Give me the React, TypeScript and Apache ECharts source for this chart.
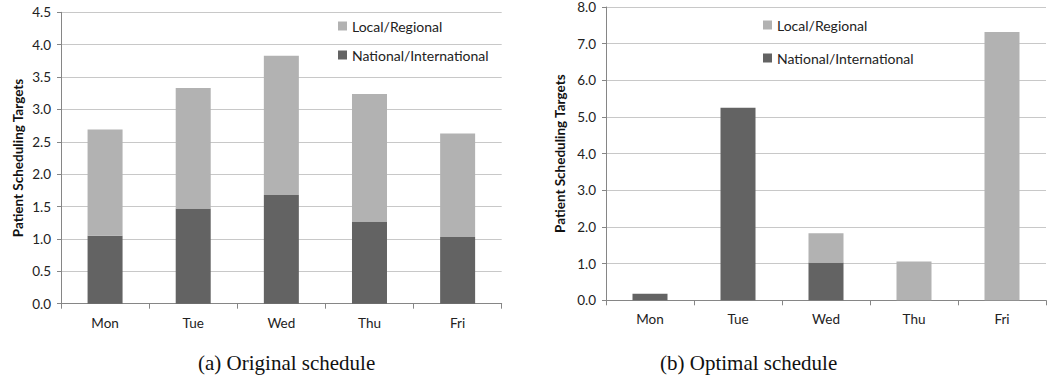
import React, { useEffect, useRef } from "react";
import * as echarts from "echarts";

const days = ["Mon", "Tue", "Wed", "Thu", "Fri"];
const originalNational = [1.05, 1.47, 1.68, 1.27, 1.03];
const originalLocal = [1.64, 1.86, 2.15, 1.97, 1.6];
const optimalNational = [0.18, 5.25, 1.03, 0, 0];
const optimalLocal = [0, 0, 0.8, 1.06, 7.32];
const seriesNames = ["Local/Regional", "National/International"];
const captions = ["(a) Original schedule", "(b) Optimal schedule"];
const yName = "Patient Scheduling Targets";

const LOCAL = "#b2b2b2";
const NATIONAL = "#636363";
const FONT = "Lato";

function xAxis(gridIndex: number) {
  return {
    type: "category",
    gridIndex,
    data: days,
    axisLine: { lineStyle: { color: "#868686", width: 1 } },
    axisTick: { show: true, length: 5, lineStyle: { color: "#868686" } },
    axisLabel: { color: "#222", fontSize: 13.5, fontFamily: FONT, margin: 12 },
  };
}

function yAxis(gridIndex: number, max: number, interval: number, nameGap: number) {
  return {
    type: "value",
    gridIndex,
    min: 0,
    max,
    interval,
    name: yName,
    nameLocation: "middle",
    nameGap,
    nameTextStyle: { fontFamily: FONT, fontSize: 13.5, fontWeight: "bold", color: "#111" },
    axisLine: { show: true, lineStyle: { color: "#868686", width: 1 } },
    axisTick: { show: true, length: 4, lineStyle: { color: "#868686" } },
    axisLabel: {
      color: "#222",
      fontSize: 13.5,
      fontFamily: FONT,
      margin: 10,
      formatter: (v: number) => v.toFixed(1),
    },
    splitLine: { lineStyle: { color: "#c8c8c8", width: 1 } },
  };
}

function bars(name: string, data: number[], color: string, idx: number, stack: string) {
  return {
    type: "bar",
    name,
    data,
    stack,
    xAxisIndex: idx,
    yAxisIndex: idx,
    barWidth: 35,
    itemStyle: { color },
  };
}

export default function App() {
  const ref = useRef<HTMLDivElement>(null);
  useEffect(() => {
    document.body.style.margin = "0";
    const chart = echarts.init(ref.current!, undefined, { renderer: "svg" });
    chart.setOption({
      animation: false,
      backgroundColor: "#ffffff",
      grid: [
        { left: 61, top: 12.3, width: 440.7, height: 291.4 },
        { left: 606, top: 2.7, width: 440, height: 297.6 },
      ],
      legend: [
        {
          data: seriesNames,
          orient: "vertical",
          left: 333,
          top: 14,
          itemWidth: 9,
          itemHeight: 9,
          itemGap: 15,
          icon: "rect",
          textStyle: { fontFamily: FONT, fontSize: 14, color: "#222" },
          selectedMode: false,
        },
        {
          data: seriesNames,
          orient: "vertical",
          left: 758,
          top: 13,
          itemWidth: 9,
          itemHeight: 9,
          itemGap: 19,
          icon: "rect",
          textStyle: { fontFamily: FONT, fontSize: 14, color: "#222" },
          selectedMode: false,
        },
      ],
      xAxis: [xAxis(0), xAxis(1)],
      yAxis: [yAxis(0, 4.5, 0.5, 36), yAxis(1, 8, 1, 39)],
      series: [
        bars(seriesNames[1], originalNational, NATIONAL, 0, "a"),
        bars(seriesNames[0], originalLocal, LOCAL, 0, "a"),
        bars(seriesNames[1], optimalNational, NATIONAL, 1, "b"),
        bars(seriesNames[0], optimalLocal, LOCAL, 1, "b"),
      ],
      graphic: [
        {
          type: "text",
          left: 285 - 87,
          top: 352,
          style: { text: captions[0], fontFamily: "Liberation Serif", fontSize: 21, fill: "#111" },
        },
        {
          type: "text",
          left: 744 - 84,
          top: 352,
          style: { text: captions[1], fontFamily: "Liberation Serif", fontSize: 21, fill: "#111" },
        },
      ],
    });
    return () => chart.dispose();
  }, []);
  return (
    <div
      ref={ref}
      style={{ position: "absolute", left: 0, top: 0, width: 1050, height: 391 }}
    />
  );
}
